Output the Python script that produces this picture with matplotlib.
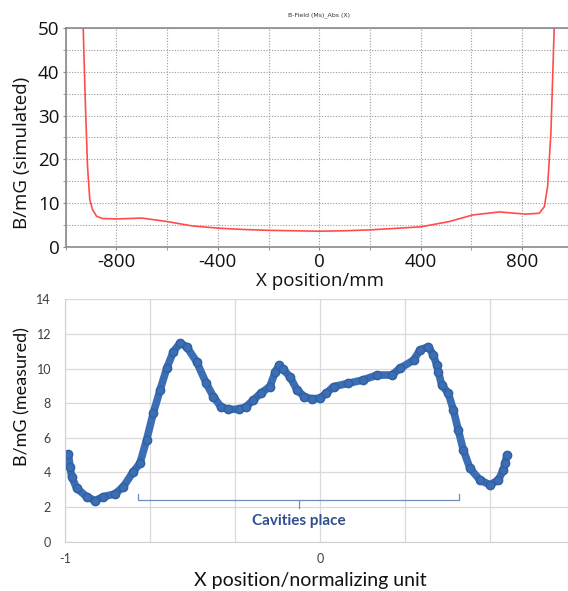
import matplotlib
matplotlib.use("Agg")
import matplotlib.pyplot as plt
import numpy as np

plt.rcParams["axes.unicode_minus"] = False

# simulated field (top panel)
sim_x = [-931, -923, -914, -905, -894, -878, -855, -800, -700, -600, -500,
         -400, -300, -200, -100, 0, 100, 200, 316, 401, 513, 605, 710, 815,
         868, 888, 901, 914, 927]
sim_b = [50, 33.6, 18.4, 10.8, 8.5, 7.0, 6.5, 6.4, 6.6, 5.8, 4.8,
         4.3, 4.0, 3.8, 3.7, 3.6, 3.7, 3.9, 4.3, 4.6, 5.8, 7.3, 8.0, 7.5,
         7.7, 9.2, 13.8, 26, 50]

# measured field (bottom panel)
meas_x = [-0.987, -0.980, -0.974, -0.954, -0.915, -0.882, -0.850, -0.804,
          -0.771, -0.732, -0.706, -0.680, -0.654, -0.627, -0.601, -0.575,
          -0.549, -0.523, -0.484, -0.446, -0.418, -0.389, -0.361, -0.318,
          -0.290, -0.261, -0.233, -0.197, -0.175, -0.161, -0.147, -0.118,
          -0.090, -0.061, -0.033, 0.0, 0.024, 0.053, 0.110, 0.167, 0.224,
          0.281, 0.314, 0.367, 0.392, 0.425, 0.444, 0.458, 0.464, 0.477,
          0.503, 0.523, 0.542, 0.562, 0.588, 0.627, 0.667, 0.699, 0.719,
          0.725, 0.734]
meas_b = [5.07, 4.33, 3.76, 3.09, 2.6, 2.37, 2.6, 2.76,
          3.18, 4.05, 4.53, 5.88, 7.42, 8.77, 10.02, 10.98,
          11.47, 11.27, 10.4, 9.15, 8.38, 7.8, 7.65, 7.65,
          7.8, 8.19, 8.57, 8.96, 9.82, 10.2, 10.0, 9.53,
          8.76, 8.38, 8.25, 8.29, 8.57, 8.96, 9.15, 9.34, 9.63,
          9.63, 10.02, 10.49, 11.08, 11.27, 10.79, 10.2, 9.83, 9.06,
          8.58, 7.61, 6.46, 5.3, 4.24, 3.57, 3.28, 3.57, 4.14,
          4.53, 5.01]

cav_start, cav_end, cav_mid = -0.712, 0.546, -0.082

fig = plt.figure(figsize=(5.68, 5.91), dpi=100)
top_font = ["Open Sans", "DejaVu Sans"]
bot_font = ["Lato", "DejaVu Sans"]

# ---- top panel
ax1 = fig.add_axes([0.1157, 0.5821, 0.8926, 0.3706])
ax1.plot(sim_x, sim_b, color="#ff4d4d", lw=1.2)
ax1.set_xlim(-1000, 1000)
ax1.set_ylim(0, 50)
ax1.set_xticks([-800, -400, 0, 400, 800])
ax1.set_xticks(np.arange(-1000, 1001, 200), minor=True)
ax1.set_yticks(np.arange(0, 51, 10))
ax1.set_yticks(np.arange(0, 51, 5), minor=True)
ax1.grid(True, which="both", color="#9a9a9a", ls=(0, (1, 1.5)), lw=0.8)
for s in ax1.spines.values():
    s.set_color("#8a8a8a")
    s.set_linewidth(1.2)
ax1.tick_params(which="both", length=2.5, color="#8a8a8a", labelsize=13.5,
                pad=2, labelcolor="#111111")
for lbl in ax1.get_xticklabels() + ax1.get_yticklabels():
    lbl.set_fontfamily(top_font)
fig.text(0.5634, 0.5245, "X position/mm", fontsize=13.5, family=top_font,
         ha="center", va="center", color="#111111")
fig.text(0.0387, 0.742, "B/mG (simulated)", fontsize=13.5, family=top_font,
         rotation=90, ha="center", va="center", color="#111111")
fig.text(0.5616, 0.9746, "B-Field (Ms)_Abs (X)", fontsize=4.5, ha="center",
         va="center", color="#333333")

# ---- bottom panel
ax2 = fig.add_axes([0.1144, 0.0834, 0.898, 0.410])
ax2.plot(meas_x, meas_b, color="#3b6eb4", lw=5.5, solid_capstyle="round",
         solid_joinstyle="round")
ax2.plot(meas_x, meas_b, "o", color="#3b6eb4", mec="#30609f", ms=6)
ax2.set_xlim(-1, 1)
ax2.set_ylim(0, 14)
ax2.set_xticks(np.arange(-1, 1.01, 1 / 3))
ax2.set_xticklabels(["-1", "", "", "0", "", "", ""])
ax2.set_yticks(np.arange(0, 15, 2))
ax2.grid(True, color="#d9d9d9", lw=0.9)
ax2.set_axisbelow(True)
for k in ["top", "right"]:
    ax2.spines[k].set_visible(False)
for k in ["left", "bottom"]:
    ax2.spines[k].set_color("#cfcfcf")
ax2.tick_params(length=0, labelsize=9, labelcolor="#404040")
ax2.tick_params(axis="y", pad=10)
ax2.tick_params(axis="x", pad=8)
for lbl in ax2.get_xticklabels() + ax2.get_yticklabels():
    lbl.set_fontfamily(bot_font)
fig.text(0.5467, 0.0186, "X position/normalizing unit", fontsize=14,
         family=bot_font, ha="center", va="center", color="#111111")
fig.text(0.0387, 0.329, "B/mG (measured)", fontsize=13, family=bot_font,
         rotation=90, ha="center", va="center", color="#111111")

# bracket for cavities
bc = "#6f8cbf"
ax2.plot([cav_start, cav_start, cav_end, cav_end], [2.76, 2.41, 2.41, 2.76],
         color=bc, lw=0.9)
ax2.plot([cav_mid, cav_mid], [2.41, 1.92], color=bc, lw=0.9)
ax2.text(cav_mid, 1.21, "Cavities place", color="#2f4f8f", fontsize=11,
         fontweight="bold", family=bot_font, ha="center", va="center")

fig.savefig("out.png", dpi=100)
